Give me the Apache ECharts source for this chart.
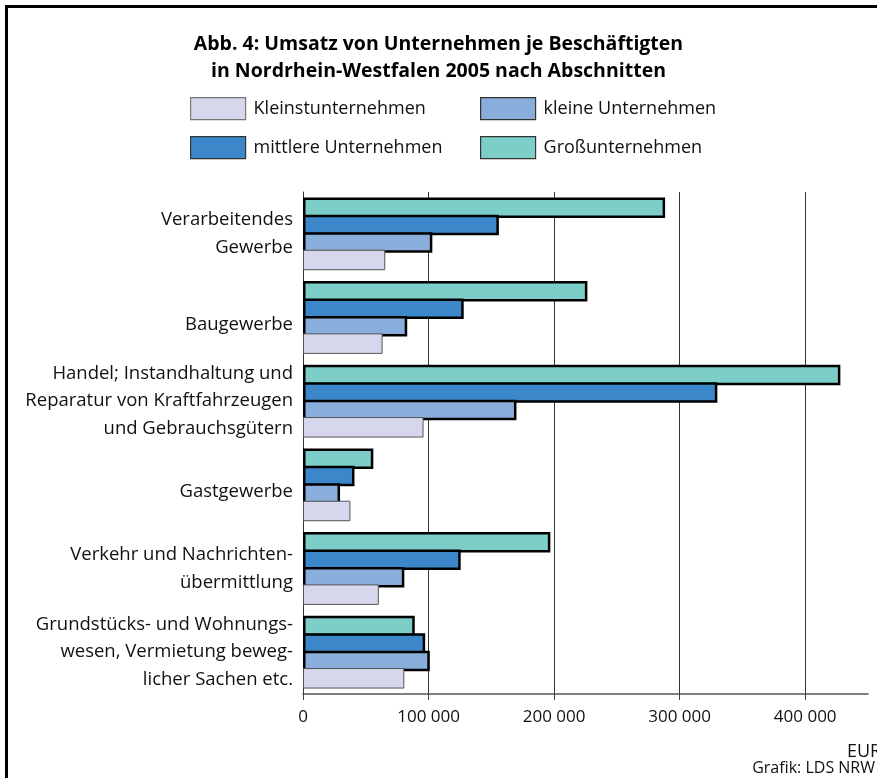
<!DOCTYPE html>
<html>
<head>
<meta charset="utf-8">
<script src="https://cdn.jsdelivr.net/npm/echarts@6/dist/echarts.min.js"></script>
<style>
html,body{margin:0;padding:0;background:#fff;}
#c{width:877px;height:778px;}
</style>
</head>
<body>
<div id="c"></div>
<script>
const categories = [
  'Verarbeitendes\nGewerbe',
  'Baugewerbe',
  'Handel; Instandhaltung und\nReparatur von Kraftfahrzeugen\nund Gebrauchsgütern',
  'Gastgewerbe',
  'Verkehr und Nachrichten-\nübermittlung',
  'Grundstücks- und Wohnungs-\nwesen, Vermietung beweg-\nlicher Sachen etc.'
];
const seriesNames = ['Kleinstunternehmen', 'kleine Unternehmen', 'mittlere Unternehmen', 'Großunternehmen'];
const kleinst  = [65500, 63400, 96000, 37800, 60400, 80700];
const kleine   = [103000, 83000, 170000, 29500, 80700, 101000];
const mittlere = [156000, 128000, 330000, 41000, 125600, 97300];
const gross    = [288400, 226500, 428000, 56000, 197000, 89000];
const xTicks = [0, 100000, 200000, 300000, 400000];

const FONT = '"Open Sans", "Noto Sans", sans-serif';
const colors = {
  'Kleinstunternehmen': '#d6d7ec',
  'kleine Unternehmen': '#8aaedc',
  'mittlere Unternehmen': '#3b87c9',
  'Großunternehmen': '#7dcdc8'
};
const valuesByName = {
  'Kleinstunternehmen': kleinst,
  'kleine Unternehmen': kleine,
  'mittlere Unternehmen': mittlere,
  'Großunternehmen': gross
};
const drawOrder = ['Großunternehmen', 'mittlere Unternehmen', 'kleine Unternehmen', 'Kleinstunternehmen'];

function fmt(v) {
  return String(v).replace(/\B(?=(\d{3})+(?!\d))/g, ' ');
}

const series = drawOrder.map(name => ({
  name: name,
  type: 'bar',
  data: valuesByName[name],
  barGap: '-15%',
  barWidth: 20.5,
  z: 3,
  itemStyle: {
    color: colors[name],
    borderColor: name === 'Kleinstunternehmen' ? '#555' : '#000',
    borderWidth: name === 'Kleinstunternehmen' ? 1 : 2.5
  }
}));

const legendPos = [
  {name: 'Kleinstunternehmen', left: 190, top: 97},
  {name: 'kleine Unternehmen', left: 480, top: 97},
  {name: 'mittlere Unternehmen', left: 190, top: 136},
  {name: 'Großunternehmen', left: 480, top: 136}
];
const legends = legendPos.map(l => ({
  data: [l.name],
  left: l.left,
  top: l.top,
  padding: 0,
  icon: 'rect',
  itemWidth: 55,
  itemHeight: 22,
  selectedMode: false,
  itemStyle: {
    borderColor: l.name === 'Kleinstunternehmen' ? '#777' : '#333',
    borderWidth: 1.2
  },
  textStyle: {fontFamily: FONT, fontSize: 18, color: '#111', padding: [0, 0, 0, 3]}
}));

const chart = echarts.init(document.getElementById('c'), null, {renderer: 'canvas'});
chart.setOption({
  backgroundColor: '#fff',
  animation: false,
  textStyle: {fontFamily: FONT},
  title: {
    text: 'Abb. 4: Umsatz von Unternehmen je Beschäftigten\nin Nordrhein-Westfalen 2005 nach Abschnitten',
    left: 'center',
    top: 26,
    textStyle: {fontFamily: FONT, fontSize: 19.5, fontWeight: 'bold', lineHeight: 27, color: '#000'}
  },
  legend: legends,
  grid: {left: 303, right: 9, top: 192, bottom: 84, containLabel: false},
  xAxis: {
    type: 'value',
    min: 0,
    max: 450000,
    interval: 100000,
    axisLine: {show: true, lineStyle: {color: '#555', width: 1.5}},
    axisTick: {show: true, length: 6, lineStyle: {color: '#444'}, customValues: xTicks},
    axisLabel: {
      customValues: xTicks,
      formatter: v => fmt(v),
      fontFamily: FONT, fontSize: 17, color: '#111', margin: 15
    },
    splitLine: {show: true, lineStyle: {color: '#333', width: 1}}
  },
  yAxis: {
    type: 'category',
    inverse: true,
    data: categories,
    axisLine: {show: true, lineStyle: {color: '#333', width: 1}},
    axisTick: {show: false},
    axisLabel: {
      fontFamily: FONT, fontSize: 18.5, lineHeight: 27.5, color: '#111', margin: 10, align: 'right',
      formatter: v => v.indexOf('\n') < 0 ? '{s|' + v + '}' : v,
      rich: {s: {fontFamily: FONT, fontSize: 18.5, color: '#111', padding: [14, 0, 0, 0]}}
    }
  },
  series: series,
  graphic: [
    {type: 'rect', shape: {x: 6.5, y: 6.5, width: 900, height: 800}, style: {fill: null, stroke: '#000', lineWidth: 3}, silent: true, z: 100},
    {type: 'text', left: 847, top: 743, style: {text: 'EUR', font: '18px ' + FONT, fill: '#111'}, z: 100},
    {type: 'text', right: 2, top: 760, style: {text: 'Grafik: LDS NRW', font: '16px ' + FONT, fill: '#111'}, z: 100}
  ]
});
</script>
</body>
</html>
